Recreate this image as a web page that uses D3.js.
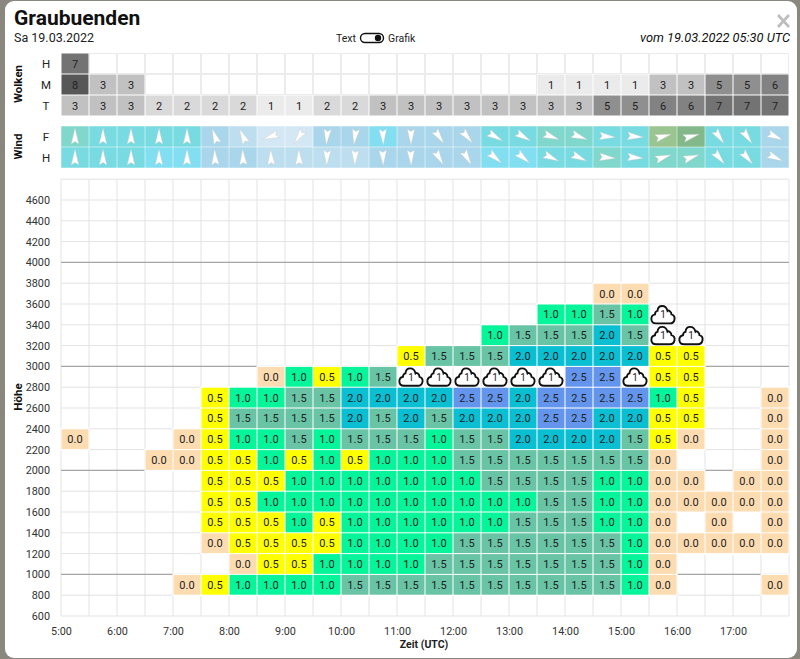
<!DOCTYPE html>
<html>
<head>
<meta charset="utf-8">
<title>Graubuenden</title>
<script src="https://cdn.jsdelivr.net/npm/d3@7"></script>
<style>
  html, body { margin: 0; padding: 0; background: #8a887e; }
  svg { display: block; font-family: Roboto, sans-serif; }
</style>
</head>
<body>
<svg id="chart" width="800" height="659"></svg>
<script>
const _ = null
const C = 'cloud'

const timeTicks = [5, 6, 7, 8, 9, 10, 11, 12, 13, 14, 15, 16, 17]
const heightTicks = [600, 800, 1000, 1200, 1400, 1600, 1800, 2000, 2200, 2400, 2600, 2800, 3000, 3200, 3400, 3600, 3800, 4000, 4200, 4400, 4600]
const columns = d3.range(26)

// Wolken
const cloudHigh = [7, _, _, _, _, _, _, _, _, _, _, _, _, _, _, _, _, _, _, _, _, _, _, _, _, _]
const cloudMid = [8, 3, 3, _, _, _, _, _, _, _, _, _, _, _, _, _, _, 1, 1, 1, 1, 3, 3, 5, 5, 6]
const cloudLow = [3, 3, 3, 2, 2, 2, 2, 1, 1, 2, 2, 3, 3, 3, 3, 3, 3, 3, 3, 5, 5, 6, 6, 7, 7, 7]

// Wind: Richtung in Grad und Stufe
const windDirF = [0, 0, 0, 0, 0, -20, -25, -110, -145, 185, 188, 178, 180, 145, 140, 120, 120, 110, 110, 95, 95, 75, 75, 145, 145, 115]
const windDirH = [0, 0, 0, 0, 0, -3, -3, -2, -2, 182, 182, 178, 178, 150, 150, 130, 130, 115, 115, 95, 95, 72, 72, 140, 140, 115]
const windLevelF = [6, 5, 5, 5, 5, 3, 2, 1, 1, 3, 3, 4, 3, 3, 3, 5, 5, 6, 6, 5, 5, 7, 8, 5, 5, 3]
const windLevelH = [5, 5, 5, 4, 4, 3, 3, 2, 2, 2, 2, 3, 3, 3, 3, 4, 4, 5, 5, 6, 5, 6, 6, 5, 5, 3]

// Thermik pro Hoehenstufe (Untergrenze der Stufe)
const row800 = [_, _, _, _, 0, 0.5, 1, 1, 1, 1, 1.5, 1.5, 1.5, 1.5, 1.5, 1.5, 1.5, 1.5, 1.5, 1.5, 1, 0, _, _, _, 0]
const row1000 = [_, _, _, _, _, _, 0, 0.5, 0.5, 1, 1, 1, 1, 1.5, 1.5, 1.5, 1.5, 1.5, 1.5, 1.5, 1, 0, _, _, _, _]
const row1200 = [_, _, _, _, _, 0, 0.5, 0.5, 0.5, 0.5, 1, 1, 1, 1, 1.5, 1.5, 1.5, 1.5, 1.5, 1.5, 1, 0, 0, 0, 0, 0]
const row1400 = [_, _, _, _, _, 0.5, 0.5, 0.5, 1, 0.5, 1, 1, 1, 1, 1, 1, 1.5, 1.5, 1.5, 1, 1, 0, _, 0, _, 0]
const row1600 = [_, _, _, _, _, 0.5, 0.5, 1, 1, 1, 1, 1, 1, 1, 1, 1, 1, 1.5, 1.5, 1, 1, 0, 0, 0, 0, 0]
const row1800 = [_, _, _, _, _, 0.5, 0.5, 0.5, 1, 1, 1, 1, 1, 1, 1, 1.5, 1.5, 1.5, 1.5, 1, 1, 0, 0, _, 0, 0]
const row2000 = [_, _, _, 0, 0, 0.5, 0.5, 1, 0.5, 1, 0.5, 1, 1, 1, 1.5, 1.5, 1.5, 1.5, 1.5, 1.5, 1.5, 0, _, _, _, 0]
const row2200 = [0, _, _, _, 0, 0.5, 1, 1, 1.5, 1, 1.5, 1.5, 1.5, 1, 1.5, 1.5, 2, 2, 2, 2, 1.5, 0.5, 0, _, _, 0]
const row2400 = [_, _, _, _, _, 0.5, 1.5, 1.5, 1.5, 1.5, 2, 1.5, 2, 1.5, 2, 2, 2, 2.5, 2.5, 2, 2, 0.5, 0.5, _, _, 0]
const row2600 = [_, _, _, _, _, 0.5, 1, 1, 1.5, 1.5, 2, 2, 2, 2, 2.5, 2.5, 2, 2.5, 2.5, 2.5, 2.5, 1, 0.5, _, _, 0]
const row2800 = [_, _, _, _, _, _, _, 0, 1, 0.5, 1, 1.5, C, C, C, C, C, C, 2.5, 2.5, C, 0.5, 0.5, _, _, _]
const row3000 = [_, _, _, _, _, _, _, _, _, _, _, _, 0.5, 1.5, 1.5, 1.5, 2, 2, 2, 2, 2, 0.5, 0.5, _, _, _]
const row3200 = [_, _, _, _, _, _, _, _, _, _, _, _, _, _, _, 1, 1.5, 1.5, 1.5, 2, 1.5, C, C, _, _, _]
const row3400 = [_, _, _, _, _, _, _, _, _, _, _, _, _, _, _, _, _, 1, 1, 1.5, 1, C, _, _, _, _]
const row3600 = [_, _, _, _, _, _, _, _, _, _, _, _, _, _, _, _, _, _, _, 0, 0, _, _, _, _, _]

const levels = [800, 1000, 1200, 1400, 1600, 1800, 2000, 2200, 2400, 2600, 2800, 3000, 3200, 3400, 3600]
const rows = [row800, row1000, row1200, row1400, row1600, row1800, row2000, row2200, row2400, row2600, row2800, row3000, row3200, row3400, row3600]

const svg = d3.select('#chart')
const left = 61, right = 789

const xTime = d3.scaleLinear().domain([5, 18]).range([left, right])
const xCol = d3.scaleBand().domain(columns).range([left, right])
const yHeight = d3.scaleLinear().domain([600, 4800]).range([616, 179.2])

const cloudColor = d3.scaleOrdinal()
  .domain([1, 2, 3, 5, 6, 7, 8])
  .range(['#ebebeb', '#d9d9d9', '#c1c1c1', '#8f8f8f', '#828282', '#737373', '#575757'])
const windColor = d3.scaleOrdinal()
  .domain([1, 2, 3, 4, 5, 6, 7, 8])
  .range(['#d3e7f5', '#bcdeef', '#a9d6ea', '#82dff2', '#78dbe2', '#80d7cb', '#9ac590', '#83b98a'])
const thermalColor = d3.scaleOrdinal()
  .domain([0, 0.5, 1, 1.5, 2, 2.5])
  .range(['#fddcb1', '#ffff00', '#06f59b', '#69c3a5', '#0bbfd3', '#6495ed'])

const arrowPath = 'M0 -8.5 L3.8 7.5 L0 5 L-3.8 7.5 Z'
const cloudPath = 'M-7 9 H7 C12 9 13.5 1.5 8.5 0 C8.5 -3 5.5 -4.5 4.5 -3.5 C3 -10 -5 -10 -5.5 -3.5 C-7 -3.5 -8 -1.5 -8 0 C-13 1 -13 9 -7 9 Z'

// Modal
svg.append('rect')
  .attr('x', 5).attr('y', 1)
  .attr('width', 792).attr('height', 657)
  .attr('rx', 9)
  .attr('fill', '#fff')

function drawHeader () {
  svg.append('text').attr('x', 14).attr('y', 25)
    .attr('font-size', 21).attr('font-weight', 700).attr('fill', '#111').text('Graubuenden')
  svg.append('text').attr('x', 14).attr('y', 42)
    .attr('font-size', 12.5).attr('fill', '#222').text('Sa 19.03.2022')
  svg.append('text').attr('x', 336).attr('y', 42)
    .attr('font-size', 10.5).attr('fill', '#222').text('Text')
  svg.append('text').attr('x', 388).attr('y', 42)
    .attr('font-size', 10.5).attr('fill', '#222').text('Grafik')
  svg.append('text').attr('x', 790).attr('y', 42)
    .attr('text-anchor', 'end').attr('font-style', 'italic')
    .attr('font-size', 12.8).attr('fill', '#111').text('vom 19.03.2022 05:30 UTC')

  // Schalter Text / Grafik
  svg.append('rect').attr('x', 360.5).attr('y', 33.5)
    .attr('width', 23).attr('height', 9).attr('rx', 4.5)
    .attr('fill', '#fff').attr('stroke', '#111').attr('stroke-width', 1.4)
  svg.append('circle').attr('cx', 378).attr('cy', 38).attr('r', 3.2).attr('fill', '#111')

  // Schliessen
  svg.append('path').attr('d', 'M778 15 L789 27 M789 15 L778 27')
    .attr('stroke', '#bdbdbd').attr('stroke-width', 2.6).attr('fill', 'none')
}

function drawCloudRows () {
  const bands = [['H', cloudHigh], ['M', cloudMid], ['T', cloudLow]]
  const y = d3.scaleBand().domain(['H', 'M', 'T']).range([53, 116])
  const g = svg.append('g')

  bands.forEach(([name, values]) => {
    g.append('text').attr('x', 46).attr('y', y(name) + y.bandwidth() / 2 + 4)
      .attr('text-anchor', 'middle').attr('font-size', 11.5).attr('fill', '#222').text(name)

    columns.forEach(i => {
      const v = values[i]
      g.append('rect')
        .attr('x', xCol(i) + 0.5).attr('y', y(name) + 0.5)
        .attr('width', xCol.bandwidth() - 1).attr('height', y.bandwidth() - 1)
        .attr('fill', v === null ? '#fff' : cloudColor(v))
        .attr('stroke', v === null ? '#ececec' : 'none')
      if (v !== null) {
        g.append('text').attr('x', xCol(i) + xCol.bandwidth() / 2).attr('y', y(name) + y.bandwidth() / 2 + 4)
          .attr('text-anchor', 'middle').attr('font-size', 11).attr('fill', '#222').text(v)
      }
    })
  })

  rotatedLabel('Wolken', 18, 84)
}

function drawWindRows () {
  const bands = [['F', windDirF, windLevelF], ['H', windDirH, windLevelH]]
  const y = d3.scaleBand().domain(['F', 'H']).range([126, 168])
  const g = svg.append('g')

  bands.forEach(([name, dirs, speeds]) => {
    g.append('text').attr('x', 46).attr('y', y(name) + y.bandwidth() / 2 + 4)
      .attr('text-anchor', 'middle').attr('font-size', 11.5).attr('fill', '#222').text(name)

    columns.forEach(i => {
      g.append('rect')
        .attr('x', xCol(i) + 0.25).attr('y', y(name) + 0.25)
        .attr('width', xCol.bandwidth() - 0.5).attr('height', y.bandwidth() - 0.5)
        .attr('fill', windColor(speeds[i]))
      g.append('path')
        .attr('d', arrowPath)
        .attr('transform', `translate(${xCol(i) + xCol.bandwidth() / 2},${y(name) + y.bandwidth() / 2}) rotate(${dirs[i]})`)
        .attr('fill', '#fff').attr('stroke', '#c8c8c8').attr('stroke-width', 0.4)
    })
  })

  rotatedLabel('Wind', 18, 146.5)
}

function rotatedLabel (text, x, y) {
  svg.append('text')
    .attr('transform', `translate(${x},${y}) rotate(-90)`)
    .attr('text-anchor', 'middle').attr('dy', '0.35em')
    .attr('font-size', 11.5).attr('font-weight', 700).attr('fill', '#111').text(text)
}

function drawGrid () {
  const grid = svg.append('g')
  const halfHours = d3.range(5, 18.5, 0.5)
  const gridLevels = d3.range(600, 5000, 200)

  grid.selectAll('line.v').data(halfHours).enter().append('line')
    .attr('x1', d => xTime(d)).attr('x2', d => xTime(d))
    .attr('y1', yHeight(4800)).attr('y2', yHeight(600))
    .attr('stroke', '#e3e3e3')
  grid.selectAll('line.h').data(gridLevels).enter().append('line')
    .attr('x1', left).attr('x2', right)
    .attr('y1', d => yHeight(d)).attr('y2', d => yHeight(d))
    .attr('stroke', '#e3e3e3')
  grid.selectAll('line.k').data([1000, 2000, 3000, 4000]).enter().append('line')
    .attr('x1', left).attr('x2', right)
    .attr('y1', d => yHeight(d)).attr('y2', d => yHeight(d))
    .attr('stroke', '#a6a6a6').attr('stroke-width', 1.2)
}

function drawThermals () {
  const g = svg.append('g')
  const backing = g.append('g')
  const cells = g.append('g')
  const h = yHeight(800) - yHeight(1000)

  rows.forEach((values, r) => {
    const top = yHeight(levels[r] + 200)
    columns.forEach(i => {
      const v = values[i]
      if (v === null) return
      const cx = xCol(i) + xCol.bandwidth() / 2
      const cy = top + h / 2

      if (v === C) {
        cells.append('path').attr('d', cloudPath)
          .attr('transform', `translate(${cx},${cy})`)
          .attr('fill', '#fff').attr('stroke', '#111').attr('stroke-width', 1.9)
        cells.append('text').attr('x', cx).attr('y', cy + 4)
          .attr('text-anchor', 'middle').attr('font-size', 10).attr('fill', '#222').text('1')
        return
      }

      // white backing hides the grid lines in the gaps between cells
      backing.append('rect').attr('x', xCol(i) - 0.5).attr('y', top - 1)
        .attr('width', xCol.bandwidth() + 1).attr('height', h + 2).attr('fill', '#fff')

      cells.append('rect')
        .attr('x', xCol(i) + 0.5).attr('y', top + 0.5)
        .attr('width', xCol.bandwidth() - 1).attr('height', h - 1)
        .attr('fill', thermalColor(v))
      cells.append('text').attr('x', cx).attr('y', cy + 4)
        .attr('text-anchor', 'middle').attr('font-size', 11).attr('fill', '#222').text(v.toFixed(1))
    })
  })
}

function drawAxes () {
  const xAxis = d3.axisBottom(xTime)
    .tickValues(timeTicks)
    .tickSize(0)
    .tickPadding(11.5)
    .tickFormat(d => d + ':00')
  const yAxis = d3.axisLeft(yHeight)
    .tickValues(heightTicks)
    .tickSize(0)
    .tickPadding(11)
    .tickFormat(d3.format('d'))

  const gx = svg.append('g').attr('transform', 'translate(0,616)').call(xAxis)
  const gy = svg.append('g').attr('transform', `translate(${left},0)`).call(yAxis)

  ;[gx, gy].forEach(g => {
    g.select('.domain').remove()
    g.selectAll('text').attr('font-family', 'Roboto, sans-serif').attr('font-size', 10.8).attr('fill', '#333')
  })

  svg.append('text').attr('x', 424).attr('y', 648)
    .attr('text-anchor', 'middle').attr('font-size', 10.5).attr('font-weight', 700).attr('fill', '#222').text('Zeit (UTC)')
  rotatedLabel('Höhe', 18, 397)
}

drawHeader()
drawCloudRows()
drawWindRows()
drawGrid()
drawThermals()
drawAxes()
</script>
</body>
</html>
